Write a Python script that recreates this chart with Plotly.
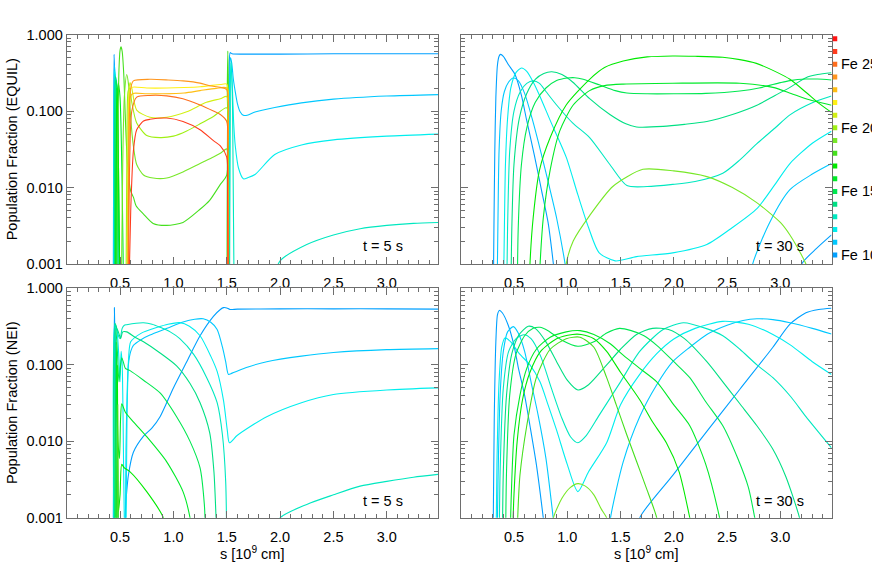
import plotly.graph_objects as go

# ---------------- data (s in 1e9 cm, population fraction) ----------------
ION_NUMBERS = list(range(10, 28))
ION_COLORS = ['#00a0ff', '#00c8ff', '#00eeee', '#00e8c0', '#00e084', '#00e850',
              '#00ea28', '#00ea00', '#46e01e', '#78e828', '#a0f014', '#d2f014',
              '#fff014', '#ffbe14', '#ff961e', '#ff6e1e', '#ff3c1e', '#ff1414']
LEGEND_LABELS = {10: 'Fe 10', 15: 'Fe 15', 20: 'Fe 20', 25: 'Fe 25'}
S_TICKS = [0.5, 1.0, 1.5, 2.0, 2.5, 3.0]
S_TICK_TEXT = ['0.5', '1.0', '1.5', '2.0', '2.5', '3.0']
F_TICKS = [0.001, 0.01, 0.1, 1.0]
F_TICK_TEXT = ['0.001', '0.010', '0.100', '1.000']
F_MINOR = [k * 10.0 ** e for e in (-3, -2, -1) for k in range(2, 10)]
S_MAX = 3.48
GAP = None

# ---- EQUIL, t = 5 s ----
EQ5_FE10 = [(0.436, 3e-4), (0.441, 0.05), (0.444, 0.55), (0.449, 0.3), (0.457, 0.01), (0.466, 3e-4), (1.0, GAP),
            (1.515, 3e-4), (1.523, 0.3), (1.532, 0.58), (1.55, 0.56), (1.7, 0.555), (2.0, 0.555), (2.5, 0.56), (3.0, 0.56), (3.48, 0.56)]
EQ5_FE11 = [(0.44, 3e-4), (0.444, 0.1), (0.447, 0.4), (0.453, 0.3), (0.463, 0.01), (0.472, 3e-4), (1.0, GAP),
            (1.518, 3e-4), (1.526, 0.15), (1.535, 0.5), (1.547, 0.42), (1.562, 0.26), (1.578, 0.185), (1.6, 0.125),
            (1.625, 0.098), (1.656, 0.088), (1.7, 0.089), (1.765, 0.097), (1.95, 0.111), (2.2, 0.128), (2.5, 0.143),
            (3.0, 0.157), (3.48, 0.164)]
EQ5_FE12 = [(0.444, 3e-4), (0.449, 0.33), (0.458, 0.25), (0.468, 0.01), (0.477, 3e-4), (1.0, GAP),
            (1.522, 3e-4), (1.53, 0.15), (1.54, 0.42), (1.553, 0.2), (1.565, 0.07), (1.58, 0.035), (1.61, 0.018), (1.656, 0.013),
            (1.7, 0.0135), (1.765, 0.0148), (1.95, 0.027), (2.2, 0.036), (2.5, 0.042), (3.0, 0.047), (3.48, 0.05)]
EQ5_FE13 = [(0.448, 3e-4), (0.452, 0.3), (0.461, 0.2), (0.474, 0.005), (0.484, 3e-4), (1.0, GAP),
            (1.526, 3e-4), (1.54, 0.45), (1.555, 0.1), (1.57, 3e-4), (1.8, GAP),
            (1.9, 4e-4), (2.0, 0.0011), (2.25, 0.0018), (2.5, 0.0024), (2.75, 0.0029), (3.0, 0.0032), (3.25, 0.0034), (3.48, 0.0035)]
EQ5_FE14 = [(0.452, 3e-4), (0.456, 0.28), (0.466, 0.25), (0.48, 0.05), (0.49, 3e-4)]
EQ5_FE15 = [(0.455, 3e-4), (0.46, 0.25), (0.47, 0.2), (0.485, 0.02), (0.5, 3e-4)]
EQ5_FE16 = [(0.46, 3e-4), (0.468, 0.12), (0.484, 0.23), (0.5, 0.15), (0.52, 0.01), (0.535, 3e-4)]
EQ5_FE17 = [(0.462, 3e-4), (0.47, 0.2), (0.478, 0.1), (0.49, 0.005), (0.5, 3e-4), (1.0, GAP),
            (1.503, 3e-4), (1.508, 0.3), (1.512, 0.05), (1.518, 3e-4)]
EQ5_FE18 = [(0.468, 3e-4), (0.48, 0.05), (0.49, 0.35), (0.5, 0.62), (0.509, 0.69), (0.52, 0.6), (0.535, 0.3), (0.55, 0.08),
            (0.57, 0.02), (0.6, 0.009), (0.625, 0.0075), (0.65, 0.0058), (0.72, 0.0045), (0.81, 0.0034), (0.9375, 0.0032),
            (1.09, 0.0035), (1.25, 0.0052), (1.34, 0.0068), (1.44, 0.011), (1.5, 0.0145), (1.505, 0.2), (1.51, 0.61),
            (1.515, 0.2), (1.52, 3e-4)]
EQ5_FE19 = [(0.51, 3e-4), (0.525, 0.02), (0.54, 0.15), (0.5625, 0.3), (0.58, 0.22), (0.6, 0.08), (0.625, 0.035), (0.656, 0.02),
            (0.72, 0.0146), (0.81, 0.0133), (0.9375, 0.0133), (1.09, 0.016), (1.25, 0.0206), (1.375, 0.025), (1.44, 0.028),
            (1.5, 0.032), (1.508, 0.01), (1.514, 3e-4)]
EQ5_FE20 = [(0.555, 3e-4), (0.565, 0.05), (0.575, 0.18), (0.59, 0.2), (0.61, 0.13), (0.656, 0.07), (0.75, 0.048), (0.875, 0.045),
            (1.0, 0.047), (1.125, 0.055), (1.25, 0.068), (1.375, 0.085), (1.5, 0.11), (1.508, 0.03), (1.514, 3e-4)]
EQ5_FE21 = [(0.565, 3e-4), (0.575, 0.05), (0.585, 0.2), (0.594, 0.236), (0.61, 0.2), (0.656, 0.103), (0.78, 0.083), (0.9375, 0.083),
            (1.125, 0.098), (1.31, 0.13), (1.44, 0.145), (1.5, 0.155), (1.508, 0.03), (1.514, 3e-4)]
EQ5_FE22 = [(0.57, 3e-4), (0.58, 0.05), (0.59, 0.18), (0.61, 0.204), (0.75, 0.2), (0.9375, 0.2), (1.1, 0.203), (1.25, 0.208),
            (1.44, 0.222), (1.5, 0.225), (1.508, 0.03), (1.514, 3e-4)]
EQ5_FE23 = [(0.572, 3e-4), (0.582, 0.05), (0.595, 0.15), (0.62, 0.17), (0.75, 0.168), (0.9, 0.168), (1.1, 0.172), (1.25, 0.185),
            (1.4, 0.198), (1.5, 0.2), (1.508, 0.03), (1.514, 3e-4)]
EQ5_FE24 = [(0.575, 3e-4), (0.585, 0.05), (0.6, 0.2), (0.625, 0.248), (0.78, 0.26), (0.95, 0.255), (1.09, 0.248), (1.25, 0.232),
            (1.34, 0.214), (1.44, 0.204), (1.5, 0.19), (1.508, 0.03), (1.514, 3e-4)]
EQ5_FE25 = [(0.578, 3e-4), (0.59, 0.02), (0.61, 0.1), (0.656, 0.152), (0.78, 0.16), (0.9375, 0.158), (1.09, 0.145), (1.25, 0.12),
            (1.375, 0.1), (1.44, 0.09), (1.5, 0.073), (1.508, 0.02), (1.514, 3e-4)]
EQ5_FE26 = [(0.58, 3e-4), (0.6, 0.005), (0.625, 0.03), (0.656, 0.057), (0.72, 0.074), (0.78, 0.078), (0.9375, 0.081), (1.09, 0.073),
            (1.25, 0.057), (1.375, 0.041), (1.44, 0.035), (1.5, 0.025), (1.508, 0.008), (1.514, 3e-4)]

# ---- NEI, t = 5 s ----
NEI5_FE10 = [(0.435, 3e-4), (0.443, 0.05), (0.447, 0.56), (0.452, 0.2), (0.46, 0.01), (0.475, 3e-4), (0.5, GAP),
             (0.54, 5e-4), (0.547, 0.001), (0.56, 0.002), (0.578, 0.0036), (0.625, 0.0072), (0.72, 0.0117), (0.8, 0.015),
             (0.875, 0.021), (1.0, 0.05), (1.125, 0.11), (1.25, 0.24), (1.375, 0.43), (1.44, 0.53), (1.47, 0.56), (1.5, 0.555),
             (1.53, 0.53), (1.6, 0.535), (2.0, 0.54), (2.5, 0.54), (3.0, 0.54), (3.48, 0.535)]
NEI5_FE11 = [(0.44, 3e-4), (0.446, 0.35), (0.452, 0.3), (0.47, 0.02), (0.49, 3e-4), (0.52, GAP),
             (0.55, 5e-4), (0.556, 0.008), (0.566, 0.04), (0.578, 0.1), (0.6, 0.15), (0.625, 0.18), (0.7, 0.215), (0.78, 0.245),
             (0.94, 0.3), (1.09, 0.363), (1.2, 0.395), (1.28, 0.40), (1.35, 0.36), (1.41, 0.29), (1.46, 0.17), (1.49, 0.11),
             (1.516, 0.075), (1.55, 0.078), (1.7, 0.094), (1.875, 0.11), (2.2, 0.13), (2.5, 0.145), (3.0, 0.158), (3.48, 0.163)]
NEI5_FE12 = [(0.444, 3e-4), (0.45, 0.33), (0.47, 0.28), (0.49, 0.12), (0.5, 0.06), (0.51, 0.15), (0.52, 0.1), (0.535, 0.003),
             (0.545, 3e-4), (0.55, GAP),
             (0.555, 5e-4), (0.565, 0.02), (0.58, 0.12), (0.6, 0.2), (0.7, 0.26), (0.85, 0.31), (0.95, 0.34), (1.06, 0.356),
             (1.15, 0.32), (1.25, 0.24), (1.35, 0.13), (1.41, 0.082), (1.47, 0.034), (1.505, 0.014), (1.525, 0.0096),
             (1.6, 0.012), (1.875, 0.021), (2.2, 0.032), (2.5, 0.041), (3.0, 0.047), (3.48, 0.05)]
NEI5_FE13 = [(0.448, 3e-4), (0.452, 0.3), (0.46, 0.33), (0.48, 0.25), (0.5, 0.22), (0.52, 0.3), (0.54, 0.33), (0.5625, 0.335),
             (0.65, 0.35), (0.72, 0.355), (0.8, 0.34), (0.875, 0.31), (0.97, 0.27), (1.06, 0.22), (1.19, 0.137), (1.31, 0.069),
             (1.41, 0.032), (1.46, 0.012), (1.49, 0.003), (1.5, 5e-4), (1.7, GAP),
             (1.95, 6e-4), (2.0, 0.001), (2.25, 0.0015), (2.5, 0.002), (2.75, 0.0026), (3.0, 0.003), (3.25, 0.0034), (3.48, 0.0037)]
NEI5_FE14 = [(0.45, 3e-4), (0.453, 0.35), (0.47, 0.3), (0.484, 0.27), (0.506, 0.22), (0.525, 0.27), (0.5625, 0.27), (0.64, 0.23),
             (0.72, 0.2), (0.875, 0.143), (1.03, 0.097), (1.156, 0.057), (1.25, 0.032), (1.34, 0.013), (1.38, 0.004),
             (1.40, 0.001), (1.41, 5e-4)]
NEI5_FE15 = [(0.455, 3e-4), (0.46, 0.3), (0.475, 0.15), (0.49, 0.06), (0.505, 0.1), (0.516, 0.124), (0.53, 0.11), (0.55, 0.09),
             (0.594, 0.084), (0.72, 0.063), (0.875, 0.043), (1.03, 0.021), (1.156, 0.01), (1.25, 0.0045), (1.29, 0.0015), (1.30, 7e-4)]
NEI5_FE16 = [(0.46, 3e-4), (0.465, 0.2), (0.48, 0.01), (0.495, 0.006), (0.505, 0.02), (0.516, 0.031), (0.55, 0.024),
             (0.625, 0.018), (0.75, 0.0115), (0.9375, 0.0054), (1.09, 0.0022), (1.156, 0.001), (1.17, 7e-4)]
NEI5_FE17 = [(0.47, 3e-4), (0.475, 0.1), (0.485, 0.0012), (0.5, 0.002), (0.516, 0.005), (0.54, 0.0045), (0.594, 0.004),
             (0.75, 0.0022), (0.906, 0.001), (0.92, 7e-4)]
NEI5_FE18 = [(0.47, 3e-4), (0.478, 0.03), (0.486, 3e-4)]

# ---- EQUIL, t = 30 s ----
EQ30_FE10 = [(0.305, 3e-4), (0.312, 0.003), (0.32, 0.03), (0.33, 0.15), (0.345, 0.4), (0.36, 0.52), (0.374, 0.55), (0.4, 0.52),
             (0.45, 0.4), (0.51, 0.3), (0.57, 0.16), (0.618, 0.077), (0.69, 0.027), (0.76, 0.009), (0.82, 0.0035), (0.87, 0.001),
             (0.9, 4e-4), (2.0, GAP), (3.15, 4e-4), (3.2, 0.001), (3.34, 0.0016), (3.48, 0.0024)]
EQ30_FE11 = [(0.34, 3e-4), (0.35, 0.004), (0.36, 0.03), (0.38, 0.1), (0.41, 0.18), (0.45, 0.24), (0.494, 0.27), (0.54, 0.25),
             (0.6, 0.17), (0.67, 0.08), (0.75, 0.03), (0.82, 0.012), (0.9, 0.004), (0.98, 0.001), (1.02, 4e-4), (2.0, GAP),
             (2.7, 4e-4), (2.74, 0.001), (2.9, 0.0035), (3.09, 0.0094), (3.3, 0.015), (3.48, 0.0206)]
EQ30_FE12 = [(0.40, 3e-4), (0.41, 0.003), (0.42, 0.02), (0.44, 0.08), (0.47, 0.2), (0.52, 0.32), (0.571, 0.366), (0.62, 0.33),
             (0.68, 0.24), (0.74, 0.16), (0.85, 0.07), (0.99, 0.025), (1.1, 0.008), (1.2, 0.003), (1.3, 0.0014), (1.45, 0.0011),
             (1.65, 0.00125), (1.99, 0.0014), (2.31, 0.0018), (2.55, 0.003), (2.78, 0.0053), (2.95, 0.011), (3.09, 0.0206),
             (3.3, 0.038), (3.48, 0.0546)]
EQ30_FE13 = [(0.43, 3e-4), (0.44, 0.003), (0.46, 0.03), (0.5, 0.1), (0.56, 0.18), (0.62, 0.23), (0.68, 0.248), (0.74, 0.23),
             (0.8, 0.18), (0.9, 0.12), (1.05, 0.07), (1.21, 0.045), (1.4, 0.02), (1.56, 0.0106), (1.75, 0.0103), (1.99, 0.011),
             (2.2, 0.012), (2.46, 0.0154), (2.62, 0.023), (2.775, 0.037), (2.95, 0.06), (3.09, 0.089), (3.3, 0.128), (3.48, 0.157)]
EQ30_FE14 = [(0.47, 3e-4), (0.48, 0.003), (0.5, 0.02), (0.55, 0.08), (0.62, 0.17), (0.7, 0.26), (0.78, 0.31), (0.855, 0.326),
             (0.95, 0.3), (1.05, 0.24), (1.21, 0.145), (1.4, 0.09), (1.55, 0.068), (1.65, 0.062), (1.9, 0.063), (2.1, 0.067),
             (2.31, 0.073), (2.55, 0.09), (2.78, 0.119), (2.95, 0.16), (3.09, 0.204), (3.24, 0.273), (3.35, 0.3), (3.48, 0.316)]
EQ30_FE15 = [(0.53, 3e-4), (0.54, 0.003), (0.57, 0.02), (0.62, 0.06), (0.7, 0.13), (0.8, 0.2), (0.9, 0.25), (1.0, 0.27),
             (1.07, 0.273), (1.15, 0.26), (1.3, 0.22), (1.45, 0.185), (1.56, 0.172), (1.75, 0.168), (2.0, 0.168), (2.3, 0.17),
             (2.62, 0.183), (2.8, 0.2), (3.0, 0.235), (3.09, 0.25), (3.24, 0.262), (3.35, 0.262), (3.48, 0.255)]
EQ30_FE16 = [(0.73, 3e-4), (0.745, 0.001), (0.775, 0.004), (0.84, 0.017), (0.93, 0.055), (1.056, 0.12), (1.21, 0.185),
             (1.35, 0.215), (1.525, 0.225), (1.99, 0.231), (2.62, 0.231), (2.93, 0.204), (3.1, 0.17), (3.24, 0.145), (3.48, 0.119)]
EQ30_FE17 = [(0.64, 3e-4), (0.65, 0.001), (0.68, 0.004), (0.74, 0.017), (0.84, 0.045), (0.99, 0.12), (1.21, 0.26), (1.35, 0.37),
             (1.525, 0.45), (1.75, 0.51), (1.99, 0.525), (2.2, 0.52), (2.46, 0.505), (2.62, 0.47), (2.775, 0.42), (2.95, 0.33),
             (3.09, 0.26), (3.24, 0.176), (3.35, 0.13), (3.48, 0.096)]
EQ30_FE19 = [(0.97, 4e-4), (0.99, 0.001), (1.056, 0.002), (1.21, 0.0043), (1.43, 0.0104), (1.71, 0.0173), (2.0, 0.0165),
             (2.31, 0.0139), (2.55, 0.01), (2.775, 0.0064), (3.0, 0.0035), (3.09, 0.0024), (3.2, 0.0013), (3.24, 0.001), (3.28, 6e-4)]

# ---- NEI, t = 30 s ----
NEI30_FE10 = [(0.30, 3e-4), (0.306, 0.001), (0.315, 0.02), (0.33, 0.2), (0.345, 0.45), (0.3625, 0.515), (0.39, 0.48),
              (0.446, 0.33), (0.5, 0.18), (0.54, 0.093), (0.6, 0.04), (0.65, 0.016), (0.71, 0.005), (0.775, 0.001), (0.8, 5e-4),
              (1.2, GAP), (1.65, 5e-4), (1.68, 0.001), (1.99, 0.0036), (2.31, 0.0135), (2.62, 0.048), (2.93, 0.17),
              (3.09, 0.34), (3.24, 0.48), (3.36, 0.53), (3.48, 0.55)]
NEI30_FE11 = [(0.34, 3e-4), (0.35, 0.003), (0.37, 0.04), (0.4, 0.15), (0.44, 0.27), (0.494, 0.316), (0.54, 0.26), (0.6, 0.15),
              (0.66, 0.06), (0.728, 0.0216), (0.8, 0.006), (0.868, 0.001), (0.9, 4e-4), (1.1, GAP),
              (1.38, 4e-4), (1.406, 0.001), (1.525, 0.0054), (1.68, 0.021), (1.84, 0.055), (1.99, 0.11), (2.15, 0.17),
              (2.31, 0.25), (2.5, 0.33), (2.65, 0.38), (2.78, 0.4), (2.93, 0.39), (3.09, 0.355), (3.3, 0.3), (3.48, 0.253)]
NEI30_FE12 = [(0.33, 3e-4), (0.34, 0.005), (0.36, 0.06), (0.385, 0.17), (0.415, 0.225), (0.47, 0.2), (0.55, 0.14), (0.65, 0.1),
              (0.744, 0.06), (0.82, 0.03), (0.9, 0.014), (1.0, 0.005), (1.1, 0.0022), (1.2, 0.004), (1.37, 0.0096), (1.5, 0.03),
              (1.68, 0.075), (1.84, 0.14), (2.0, 0.218), (2.2, 0.3), (2.46, 0.37), (2.7, 0.34), (2.93, 0.25), (3.1, 0.18),
              (3.3, 0.11), (3.48, 0.075)]
NEI30_FE13 = [(0.36, 3e-4), (0.37, 0.004), (0.4, 0.05), (0.45, 0.15), (0.52, 0.22), (0.596, 0.248), (0.66, 0.22), (0.75, 0.13),
              (0.85, 0.05), (0.95, 0.02), (1.03, 0.0115), (1.1, 0.0096), (1.18, 0.012), (1.3, 0.022), (1.5, 0.06), (1.68, 0.15),
              (1.9, 0.29), (2.09, 0.355), (2.3, 0.3), (2.46, 0.24), (2.62, 0.16), (2.78, 0.1), (2.93, 0.068), (3.1, 0.038),
              (3.24, 0.021), (3.48, 0.0082)]
NEI30_FE14 = [(0.39, 3e-4), (0.4, 0.004), (0.43, 0.04), (0.48, 0.14), (0.55, 0.25), (0.634, 0.32), (0.7, 0.3), (0.8, 0.2),
              (0.9, 0.11), (1.0, 0.063), (1.1, 0.047), (1.2, 0.055), (1.37, 0.1), (1.5, 0.16), (1.65, 0.25), (1.8, 0.3),
              (1.95, 0.29), (2.1, 0.22), (2.31, 0.11), (2.46, 0.06), (2.62, 0.031), (2.78, 0.016), (2.93, 0.0079),
              (3.05, 0.0035), (3.18, 0.001), (3.22, 5e-4)]
NEI30_FE15 = [(0.42, 3e-4), (0.43, 0.004), (0.46, 0.04), (0.52, 0.14), (0.6, 0.24), (0.68, 0.3), (0.744, 0.31), (0.82, 0.28),
              (0.95, 0.21), (1.1, 0.175), (1.25, 0.2), (1.37, 0.26), (1.49, 0.3), (1.6, 0.28), (1.72, 0.24), (1.84, 0.18),
              (2.0, 0.11), (2.15, 0.068), (2.3, 0.033), (2.46, 0.016), (2.6, 0.006), (2.7, 0.0025), (2.76, 0.001), (2.8, 5e-4)]
NEI30_FE16 = [(0.46, 3e-4), (0.475, 0.002), (0.5, 0.012), (0.556, 0.04), (0.62, 0.09), (0.71, 0.16), (0.84, 0.23), (0.99, 0.27),
              (1.12, 0.28), (1.25, 0.25), (1.4, 0.19), (1.525, 0.134), (1.68, 0.09), (1.84, 0.06), (2.0, 0.03), (2.15, 0.016),
              (2.3, 0.005), (2.43, 0.001), (2.47, 5e-4)]
NEI30_FE17 = [(0.48, 3e-4), (0.5, 0.002), (0.53, 0.01), (0.58, 0.035), (0.65, 0.08), (0.75, 0.15), (0.9, 0.22), (1.05, 0.25),
              (1.13, 0.25), (1.25, 0.22), (1.37, 0.15), (1.5, 0.08), (1.68, 0.035), (1.8, 0.018), (1.93, 0.0096), (2.05, 0.004),
              (2.15, 0.001), (2.19, 5e-4)]
NEI30_FE18 = [(0.52, 3e-4), (0.54, 0.0015), (0.556, 0.0036), (0.62, 0.016), (0.71, 0.068), (0.84, 0.16), (0.99, 0.22),
              (1.12, 0.23), (1.25, 0.17), (1.37, 0.068), (1.46, 0.03), (1.556, 0.0125), (1.65, 0.0055), (1.74, 0.0025),
              (1.84, 0.001), (1.87, 5e-4)]
NEI30_FE19 = [(0.85, 5e-4), (0.87, 0.001), (0.95, 0.0018), (1.03, 0.0025), (1.1, 0.0028), (1.17, 0.0026), (1.25, 0.002),
              (1.32, 0.0013), (1.37, 0.001), (1.4, 6e-4)]

PANEL_EQ5 = [(10, EQ5_FE10), (11, EQ5_FE11), (12, EQ5_FE12), (13, EQ5_FE13), (14, EQ5_FE14), (15, EQ5_FE15),
             (16, EQ5_FE16), (17, EQ5_FE17), (18, EQ5_FE18), (19, EQ5_FE19), (20, EQ5_FE20), (21, EQ5_FE21),
             (22, EQ5_FE22), (23, EQ5_FE23), (24, EQ5_FE24), (25, EQ5_FE25), (26, EQ5_FE26)]
PANEL_EQ30 = [(10, EQ30_FE10), (11, EQ30_FE11), (12, EQ30_FE12), (13, EQ30_FE13), (14, EQ30_FE14), (15, EQ30_FE15),
              (16, EQ30_FE16), (17, EQ30_FE17), (19, EQ30_FE19)]
PANEL_NEI5 = [(10, NEI5_FE10), (11, NEI5_FE11), (12, NEI5_FE12), (13, NEI5_FE13), (14, NEI5_FE14), (15, NEI5_FE15),
              (16, NEI5_FE16), (17, NEI5_FE17), (18, NEI5_FE18)]
PANEL_NEI30 = [(10, NEI30_FE10), (11, NEI30_FE11), (12, NEI30_FE12), (13, NEI30_FE13), (14, NEI30_FE14), (15, NEI30_FE15),
               (16, NEI30_FE16), (17, NEI30_FE17), (18, NEI30_FE18), (19, NEI30_FE19)]

PANELS = [(PANEL_EQ5, 'x', 'y', 't = 5 s'), (PANEL_EQ30, 'x2', 'y2', 't = 30 s'),
          (PANEL_NEI5, 'x3', 'y3', 't = 5 s'), (PANEL_NEI30, 'x4', 'y4', 't = 30 s')]

# ---------------- figure ----------------
W, H = 872, 581
FONT = 'Liberation Sans, Arial, Helvetica, sans-serif'
FS = 14.5
FRAME = '#6e6e6e'

def px_x(p):
    return p / W

def px_y(p):
    return 1 - p / H

XDOM_L = [px_x(66.7), px_x(438.0)]
XDOM_R = [px_x(460.7), px_x(831.5)]
YDOM_T = [px_y(263.3), px_y(27.3)]
YDOM_B = [px_y(524.3), px_y(288.3)]

fig = go.Figure()
for curves, xa, ya, _ in PANELS:
    for ion, pts in curves:
        fig.add_trace(go.Scatter(
            x=[p[0] for p in pts], y=[p[1] for p in pts], mode='lines',
            line=dict(color=ION_COLORS[ion - 10], width=1.1, shape='spline', smoothing=0.7),
            connectgaps=False, xaxis=xa, yaxis=ya, hoverinfo='skip', showlegend=False))

# ion colour key
fig.add_trace(go.Scatter(
    x=[0] * len(ION_NUMBERS), y=ION_NUMBERS, mode='markers',
    marker=dict(symbol='square', size=5, color=ION_COLORS, line=dict(width=0)),
    xaxis='x5', yaxis='y5', hoverinfo='skip', showlegend=False))

def xaxis(dom, anchor):
    return dict(domain=dom, anchor=anchor, range=[0, S_MAX], tickmode='array', tickvals=S_TICKS,
                ticktext=S_TICK_TEXT, ticks='inside', ticklen=7, tickcolor=FRAME, tickwidth=1,
                minor=dict(ticks='inside', ticklen=4, dtick=0.1, tick0=0, tickcolor=FRAME, tickwidth=1),
                showline=True, linecolor=FRAME, linewidth=1, mirror='allticks', showgrid=False,
                zeroline=False, ticklabelstandoff=6, tickfont=dict(family=FONT, size=FS, color='black'))

def yaxis(dom, anchor, labels):
    return dict(domain=dom, anchor=anchor, type='log', range=[-3, 0], tickmode='array', tickvals=F_TICKS,
                ticktext=F_TICK_TEXT, ticks='inside', ticklen=7, tickcolor=FRAME, tickwidth=1,
                minor=dict(ticks='inside', ticklen=4, tickmode='array', tickvals=F_MINOR, tickcolor=FRAME, tickwidth=1),
                showline=True, linecolor=FRAME, linewidth=1, mirror='allticks', showgrid=False,
                zeroline=False, showticklabels=labels, tickfont=dict(family=FONT, size=FS, color='black'))

ann = []
for (curves, xa, ya, label), (xr, yb) in zip(PANELS, [(405, 245), (806, 245), (405, 507), (806, 507)]):
    ann.append(dict(text=label, xref='paper', yref='paper', x=px_x(xr), y=px_y(yb), xanchor='right',
                    yanchor='middle', showarrow=False, font=dict(family=FONT, size=FS, color='black')))
for txt, yc in [('Population Fraction (EQUIL)', 145.3), ('Population Fraction (NEI)', 406.3)]:
    ann.append(dict(text=txt, xref='paper', yref='paper', x=px_x(12), y=px_y(yc), textangle=-90,
                    xanchor='center', yanchor='middle', showarrow=False,
                    font=dict(family=FONT, size=FS, color='black')))
for xc in (252.4, 646.1):
    ann.append(dict(text='s [10<sup>9</sup> cm]', xref='paper', yref='paper', x=px_x(xc), y=px_y(560),
                    xanchor='center', yanchor='middle', showarrow=False,
                    font=dict(family=FONT, size=FS, color='black')))
for ion, txt in LEGEND_LABELS.items():
    ann.append(dict(text=txt, xref='paper', yref='y5', x=px_x(839.5), y=ion, xanchor='left', yanchor='middle',
                    borderpad=0, showarrow=False, font=dict(family=FONT, size=FS, color='black')))

fig.update_layout(
    width=W, height=H, margin=dict(l=0, r=0, t=0, b=0), paper_bgcolor='white', plot_bgcolor='white',
    xaxis=xaxis(XDOM_L, 'y'), yaxis=yaxis(YDOM_T, 'x', True),
    xaxis2=xaxis(XDOM_R, 'y2'), yaxis2=yaxis(YDOM_T, 'x2', False),
    xaxis3=xaxis(XDOM_L, 'y3'), yaxis3=yaxis(YDOM_B, 'x3', True),
    xaxis4=xaxis(XDOM_R, 'y4'), yaxis4=yaxis(YDOM_B, 'x4', False),
    xaxis5=dict(domain=[px_x(832.5), px_x(837.5)], anchor='y5', range=[-1, 1], visible=False),
    yaxis5=dict(domain=[px_y(260.5), px_y(25.2)], anchor='x5', range=[9.5, 27.5], visible=False),
    annotations=ann, font=dict(family=FONT, size=FS, color='black'))

fig.write_html('out.html', config={'displayModeBar': False},
               post_script="document.body.style.margin='0';document.body.style.overflow='hidden';")
